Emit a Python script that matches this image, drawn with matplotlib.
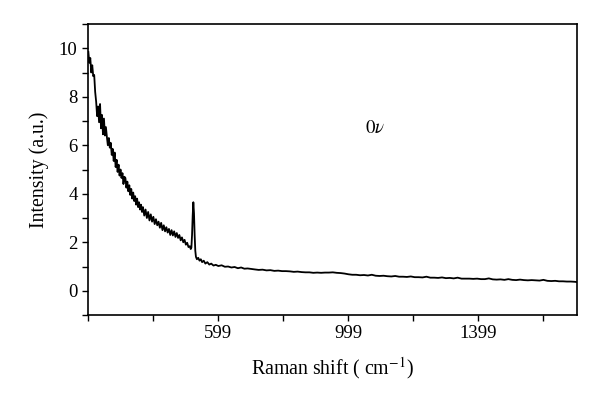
import matplotlib
matplotlib.use("Agg")
import matplotlib.pyplot as plt

plt.rcParams['font.family'] = ['Liberation Serif', 'DejaVu Serif']
plt.rcParams['mathtext.fontset'] = 'stix'

# Raman shift (cm^-1) and intensity (a.u.)
raman_shift = [
    200, 203, 206, 209, 212, 215, 218, 221, 224, 227, 230, 233, 236, 239, 242, 245, 248, 251, 254,
    257, 260, 263, 266, 269, 272, 275, 278, 281, 284, 287, 290, 293, 296, 299, 302, 305, 308, 311,
    314, 317, 320, 323, 326, 329, 332, 335, 338, 341, 344, 347, 350, 353, 356, 359, 362, 365, 368,
    372, 376, 380, 384, 388, 392, 396, 400, 404, 408, 412, 416, 420, 424, 428, 432, 436, 440, 444,
    448, 452, 456, 460, 464, 468, 472, 476, 480, 484, 488, 492, 496, 500, 504, 508, 512, 515, 517,
    519, 521, 523, 525, 527, 529, 531, 534, 538, 542, 546, 550, 555, 560, 566, 572, 578, 585, 592,
    600, 610, 620, 630, 640, 650, 660, 670, 680, 690, 700, 712, 724, 736, 748, 760, 772, 784, 796,
    808, 820, 832, 844, 856, 868, 880, 892, 904, 916, 928, 940, 952, 964, 976, 988, 1000, 1012,
    1024, 1036, 1048, 1060, 1072, 1084, 1096, 1108, 1120, 1132, 1144, 1156, 1168, 1180, 1192,
    1204, 1216, 1228, 1240, 1252, 1264, 1276, 1288, 1300, 1312, 1324, 1336, 1348, 1360, 1372,
    1384, 1396, 1408, 1420, 1432, 1444, 1456, 1468, 1480, 1492, 1504, 1516, 1528, 1540, 1552,
    1564, 1576, 1588, 1600, 1612, 1624, 1636, 1648, 1660, 1672, 1684, 1696, 1702,
]
intensity = [
    9.85, 9.4, 9.6, 9.0, 9.3, 8.85, 8.9, 8.2, 7.8, 7.2, 7.6, 6.95, 7.7, 6.7, 7.25, 6.45, 7.1, 6.4, 6.75,
    6.35, 6.0, 6.3, 5.9, 6.1, 5.6, 5.85, 5.35, 5.7, 5.1, 5.4, 4.9, 5.2, 4.75, 5.0, 4.65, 4.85, 4.4, 4.7,
    4.65, 4.25, 4.5, 4.1, 4.35, 3.95, 4.2, 3.8, 4.05, 3.7, 3.9, 3.55, 3.8, 3.45, 3.65, 3.35, 3.55, 3.25, 3.45,
    3.1, 3.35, 3.0, 3.25, 2.9, 3.15, 2.85, 3.05, 2.75, 2.95, 2.7, 2.85, 2.6, 2.8, 2.5, 2.7, 2.45, 2.62, 2.4,
    2.55, 2.3, 2.5, 2.28, 2.45, 2.22, 2.38, 2.18, 2.3, 2.08, 2.2, 2.0, 2.1, 1.9, 1.98, 1.8, 1.84, 1.72, 1.78,
    2.3, 3.1, 3.65, 3.2, 2.3, 1.65, 1.4, 1.3, 1.36, 1.24, 1.3, 1.18, 1.24, 1.12, 1.18, 1.08, 1.12, 1.04, 1.07,
    1.02, 1.05, 0.99, 1.0, 0.96, 0.98, 0.93, 0.96, 0.91, 0.92, 0.9, 0.88, 0.86, 0.87, 0.84, 0.85, 0.82, 0.83, 0.81,
    0.81, 0.8, 0.78, 0.79, 0.77, 0.76, 0.76, 0.74, 0.75, 0.74, 0.75, 0.75, 0.76, 0.74, 0.73, 0.71, 0.68, 0.66,
    0.66, 0.64, 0.65, 0.63, 0.66, 0.62, 0.61, 0.62, 0.6, 0.59, 0.61, 0.58, 0.58, 0.57, 0.59,
    0.56, 0.56, 0.55, 0.58, 0.54, 0.54, 0.53, 0.55, 0.52, 0.53, 0.51, 0.54, 0.5, 0.5, 0.5,
    0.49, 0.5, 0.48, 0.48, 0.51, 0.47, 0.46, 0.47, 0.45, 0.48, 0.45, 0.44, 0.46, 0.44, 0.43,
    0.44, 0.43, 0.42, 0.45, 0.41, 0.4, 0.41, 0.39, 0.39, 0.38, 0.38, 0.37, 0.36,
]

x_major = [599, 999, 1399]
x_minor = [199, 399, 799, 1199, 1599]
y_major = [0, 2, 4, 6, 8, 10]
y_minor = [-1, 1, 3, 5, 7, 9, 11]

fig = plt.figure(figsize=(6.0, 3.98), dpi=100)
ax = fig.add_axes([0.1467, 0.2085, 0.8143, 0.7312])

ax.plot(raman_shift, intensity, color='black', linewidth=1.3)

ax.set_xlim(199, 1702)
ax.set_ylim(-1, 11)
ax.set_xticks(x_major)
ax.set_xticks(x_minor, minor=True)
ax.set_yticks(y_major)
ax.set_yticks(y_minor, minor=True)
ax.tick_params(axis='both', which='both', direction='out', length=4, width=1.0, labelsize=13.5)
ax.tick_params(axis='x', which='both', top=False)
ax.tick_params(axis='y', which='both', right=False)
for s in ax.spines.values():
    s.set_linewidth(1.2)

ax.set_xlabel('Raman shift ( cm$^{-1}$)', fontsize=14.3, labelpad=9)
ax.set_ylabel('Intensity (a.u.)', fontsize=14.3, labelpad=7)

ax.text(1081, 6.7, '$0\\nu$', fontsize=13.5, ha='center', va='center')

fig.savefig('out.png', dpi=100)
